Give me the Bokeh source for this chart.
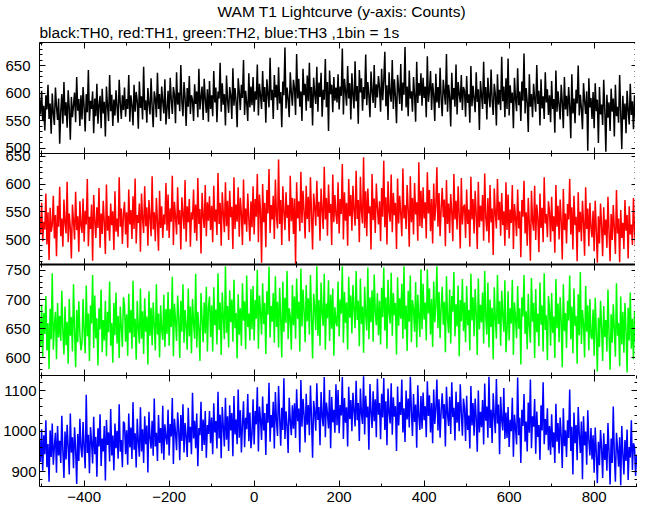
from bokeh.plotting import figure
from bokeh.layouts import column
from bokeh.models import LinearAxis, Title, Range1d, SingleIntervalTicker
from bokeh.embed import file_html
from bokeh.resources import INLINE

# ---------------- data (counts per 1 s bin, sampled every 2.5 s) ----------------
T0 = -505
STEP = 2.5

th0 = [
    588, 561, 604, 549, 577, 532, 596, 570, 615, 553, 581, 526, 599, 563, 542, 610, 575, 551, 590, 508, 567, 598, 544, 620, 559, 583, 537, 605, 572, 515, 593, 556, 578, 601, 547, 629, 568, 589, 540, 596,
    552, 611, 574, 530, 598, 565, 642, 549, 586, 571, 603, 527, 590, 558, 617, 544, 579, 595, 536, 608, 563, 584, 521, 612, 576, 549, 633, 567, 597, 540, 588, 559, 605, 574, 546, 624, 582, 553, 596, 569,
    610, 557, 589, 571, 633, 548, 596, 578, 541, 615, 566, 602, 585, 535, 621, 573, 594, 552, 648, 569, 587, 546, 609, 580, 561, 627, 575, 538, 603, 590, 556, 637, 571, 598, 549, 612, 584, 563, 625, 543,
    571, 604, 553, 628, 588, 562, 611, 597, 545, 638, 579, 601, 567, 651, 584, 558, 620, 592, 540, 609, 575, 631, 562, 596, 587, 549, 616, 580, 603, 556, 644, 570, 593, 612, 551, 626, 589, 564, 607, 548,
    622, 571, 596, 558, 640, 583, 610, 547, 603, 590, 655, 566, 618, 579, 598, 541, 632, 587, 564, 611, 596, 553, 645, 577, 609, 585, 538, 627, 602, 569, 615, 591, 660, 560, 604, 582, 549, 636, 574, 612,
    578, 629, 566, 603, 588, 652, 559, 617, 595, 571, 640, 584, 611, 546, 625, 598, 574, 664, 587, 606, 553, 633, 592, 615, 569, 647, 581, 602, 538, 621, 596, 683, 572, 610, 589, 556, 638, 601, 577, 624,
    609, 560, 671, 590, 626, 575, 603, 549, 644, 596, 617, 568, 632, 585, 655, 573, 611, 541, 628, 599, 580, 648, 566, 619, 593, 637, 557, 606, 588, 662, 574, 620, 531, 641, 598, 615, 565, 629, 586, 610,
    583, 634, 570, 612, 595, 681, 561, 626, 604, 577, 649, 590, 618, 552, 636, 597, 572, 658, 585, 613, 544, 642, 601, 627, 568, 611, 589, 670, 578, 620, 596, 556, 639, 603, 582, 651, 573, 616, 592, 631,
    610, 566, 644, 587, 622, 675, 576, 614, 551, 638, 599, 584, 660, 571, 625, 593, 545, 633, 607, 580, 653, 568, 619, 597, 684, 574, 612, 558, 641, 590, 603, 566, 629, 596, 548, 657, 582, 618, 595, 636,
    577, 628, 591, 612, 556, 667, 584, 605, 640, 569, 618, 597, 549, 635, 583, 611, 573, 646, 590, 558, 624, 602, 579, 671, 566, 615, 593, 539, 637, 588, 609, 575, 652, 561, 620, 598, 583, 633, 569, 611,
    604, 557, 631, 582, 598, 546, 649, 576, 613, 590, 565, 638, 584, 607, 533, 622, 596, 571, 657, 580, 611, 552, 628, 593, 574, 643, 587, 560, 617, 598, 541, 634, 579, 606, 569, 666, 585, 612, 556, 627,
    571, 663, 559, 614, 582, 601, 536, 628, 590, 567, 645, 578, 603, 549, 621, 586, 672, 563, 609, 584, 529, 634, 575, 598, 556, 617, 589, 566, 651, 580, 604, 541, 625, 572, 594, 553, 638, 583, 607, 560,
    596, 547, 622, 571, 589, 528, 641, 566, 603, 579, 552, 615, 584, 536, 629, 570, 595, 558, 611, 577, 518, 634, 563, 590, 545, 606, 581, 650, 559, 597, 572, 534, 618, 586, 562, 603, 495, 627, 574, 591,
    553, 602, 536, 618, 567, 588, 509, 611, 561, 579, 542, 624, 570, 493, 597, 555, 583, 531, 608, 566, 590, 521, 615, 558, 575, 546, 633, 564, 498, 595, 552, 581, 527, 604, 569, 543, 617, 560, 585, 534,
    596, 551, 578,
]

th1 = [
    541, 509, 566, 497, 532, 518, 583, 491, 549, 463, 557, 514, 526, 579, 502, 544, 470, 561, 523, 595, 506, 538, 487, 572, 529, 511, 604, 495, 547, 521, 466, 563, 533, 500, 586, 517, 542, 478, 569, 525,
    512, 574, 496, 552, 527, 609, 488, 541, 519, 563, 462, 580, 534, 503, 558, 521, 593, 485, 547, 510, 570, 530, 474, 599, 516, 543, 498, 565, 526, 551, 481, 587, 514, 538, 505, 612, 523, 556, 492, 546,
    568, 509, 549, 485, 590, 527, 553, 501, 578, 519, 610, 493, 544, 530, 565, 478, 583, 537, 512, 596, 524, 558, 489, 571, 540, 506, 614, 518, 549, 497, 575, 532, 480, 588, 521, 560, 503, 545, 527, 602,
    516, 581, 503, 556, 532, 615, 490, 568, 541, 509, 594, 527, 553, 482, 576, 545, 519, 607, 496, 560, 531, 573, 487, 549, 536, 590, 512, 563, 498, 611, 528, 555, 475, 584, 542, 521, 598, 506, 567, 534,
    578, 517, 561, 495, 597, 532, 554, 508, 620, 528, 566, 489, 585, 546, 513, 603, 524, 570, 499, 588, 540, 559, 483, 612, 519, 563, 532, 594, 505, 575, 547, 490, 608, 527, 556, 514, 583, 538, 497, 569,
    522, 596, 509, 573, 541, 618, 495, 581, 553, 458, 600, 531, 566, 486, 589, 547, 627, 512, 562, 536, 579, 501, 608, 543, 520, 644, 528, 571, 490, 596, 551, 517, 585, 539, 562, 497, 615, 533, 575, 510,
    574, 456, 603, 538, 569, 515, 622, 530, 588, 550, 502, 597, 537, 577, 513, 612, 546, 482, 583, 559, 525, 606, 541, 568, 498, 592, 553, 519, 631, 536, 575, 507, 599, 548, 564, 490, 617, 531, 580, 545,
    528, 603, 511, 573, 546, 636, 500, 585, 534, 566, 489, 609, 542, 580, 516, 597, 553, 525, 624, 537, 571, 495, 613, 550, 529, 648, 521, 587, 506, 592, 547, 560, 482, 618, 535, 574, 512, 601, 556, 527,
    569, 497, 593, 541, 642, 522, 576, 491, 605, 550, 532, 617, 513, 584, 544, 566, 483, 610, 529, 579, 546, 506, 628, 538, 562, 519, 598, 553, 487, 614, 531, 575, 509, 602, 545, 567, 498, 639, 524, 588,
    521, 594, 538, 567, 502, 621, 547, 589, 515, 573, 493, 601, 534, 560, 630, 523, 584, 506, 555, 593, 540, 572, 488, 607, 528, 565, 512, 582, 549, 497, 618, 536, 570, 518, 596, 543, 484, 611, 527, 558,
    563, 503, 590, 528, 554, 487, 613, 536, 573, 511, 588, 546, 483, 604, 522, 561, 533, 580, 498, 619, 540, 515, 575, 494, 598, 531, 556, 472, 592, 547, 520, 609, 535, 568, 507, 584, 526, 551, 489, 603,
    517, 581, 502, 554, 530, 598, 483, 564, 539, 506, 590, 520, 551, 468, 571, 541, 606, 511, 549, 489, 575, 528, 462, 588, 534, 516, 597, 499, 563, 538, 477, 583, 521, 557, 495, 612, 529, 546, 504, 569,
    551, 496, 577, 515, 542, 476, 598, 523, 561, 500, 572, 533, 464, 591, 517, 547, 493, 564, 536, 609, 509, 558, 482, 579, 526, 541, 461, 585, 513, 550, 497, 570, 530, 471, 594, 519, 556, 488, 566, 522,
    504, 552, 479, 570, 517, 458, 542, 493, 565, 525, 470, 558, 508, 536, 485, 577, 514, 461, 546, 499, 562, 520, 474, 589, 511, 538, 459, 553, 503, 530, 483, 571, 516, 544, 466, 560, 509, 527, 490, 575,
    515, 487, 544,
]

th2 = [
    668, 620, 691, 602, 677, 641, 706, 613, 660, 581, 684, 632, 745, 614, 656, 679, 598, 694, 635, 672, 629, 715, 645, 606, 688, 622, 662, 590, 701, 638, 670, 611, 726, 647, 584, 682, 627, 697, 641, 613,
    627, 701, 645, 608, 724, 637, 676, 595, 690, 659, 742, 617, 707, 634, 668, 587, 685, 649, 717, 610, 665, 630, 698, 603, 679, 644, 731, 621, 660, 592, 694, 639, 712, 625, 672, 600, 688, 653, 619, 704,
    691, 628, 675, 604, 710, 643, 682, 616, 732, 636, 667, 597, 698, 651, 625, 719, 633, 680, 607, 702, 645, 671, 589, 714, 638, 686, 622, 695, 657, 613, 726, 640, 676, 601, 690, 648, 631, 708, 619, 684,
    641, 713, 621, 684, 653, 739, 603, 693, 664, 629, 707, 670, 600, 698, 645, 726, 626, 682, 655, 614, 719, 637, 688, 608, 701, 660, 633, 744, 618, 679, 649, 595, 711, 666, 627, 695, 642, 722, 611, 687,
    705, 636, 690, 611, 721, 656, 683, 623, 745, 648, 695, 605, 712, 669, 632, 757, 643, 689, 618, 716, 661, 700, 628, 734, 651, 677, 599, 709, 640, 685, 621, 728, 664, 697, 615, 741, 653, 676, 630, 718,
    649, 723, 630, 699, 667, 751, 616, 707, 679, 640, 728, 658, 694, 607, 714, 674, 756, 635, 689, 662, 711, 626, 740, 653, 696, 618, 720, 668, 601, 731, 645, 703, 660, 749, 632, 685, 671, 614, 725, 656,
    705, 633, 736, 667, 696, 611, 753, 654, 717, 680, 627, 725, 663, 702, 640, 742, 672, 599, 710, 685, 648, 757, 638, 699, 621, 729, 676, 655, 744, 614, 693, 668, 733, 629, 708, 650, 719, 604, 687, 662,
    654, 731, 637, 700, 676, 757, 626, 713, 660, 695, 614, 739, 669, 707, 642, 725, 683, 651, 749, 665, 698, 620, 736, 658, 688, 609, 722, 674, 647, 755, 632, 704, 661, 716, 628, 743, 679, 656, 711, 639,
    698, 623, 720, 670, 755, 647, 704, 616, 734, 679, 659, 746, 638, 711, 673, 694, 606, 738, 655, 702, 667, 727, 633, 757, 649, 690, 612, 715, 662, 741, 627, 699, 684, 645, 730, 618, 708, 671, 636, 752,
    649, 727, 666, 695, 630, 752, 676, 719, 640, 701, 619, 731, 661, 689, 757, 651, 713, 634, 685, 722, 657, 696, 610, 740, 668, 643, 717, 625, 706, 679, 747, 637, 692, 654, 724, 603, 699, 663, 735, 646,
    695, 627, 723, 656, 682, 613, 744, 664, 704, 637, 718, 676, 605, 736, 649, 691, 661, 712, 625, 749, 670, 640, 729, 618, 700, 653, 686, 598, 721, 667, 633, 742, 658, 697, 621, 715, 674, 645, 733, 610,
    647, 714, 630, 685, 659, 734, 605, 695, 668, 634, 723, 650, 685, 589, 704, 671, 742, 641, 680, 615, 710, 653, 626, 737, 662, 694, 600, 718, 644, 676, 620, 729, 657, 690, 611, 745, 648, 673, 596, 706,
    684, 621, 711, 643, 671, 600, 735, 651, 693, 627, 704, 661, 584, 726, 646, 677, 617, 698, 664, 741, 632, 688, 608, 719, 655, 672, 590, 709, 639, 747, 624, 682, 658, 601, 723, 645, 690, 613, 701, 637,
    632, 683, 604, 703, 645, 577, 669, 619, 698, 654, 595, 689, 636, 665, 611, 717, 641, 580, 675, 626, 692, 649, 602, 728, 638, 660, 586, 705, 623, 679, 609, 694, 647, 575, 686, 630, 712, 616, 667, 598,
    681, 627, 659,
]

th3 = [
    981, 924, 1005, 902, 990, 943, 1027, 911, 968, 875, 1002, 936, 1019, 917, 963, 996, 897, 1013, 940, 976, 921, 1038, 952, 884, 999, 930, 1016, 961, 893, 1044, 947, 985, 908, 1010, 955, 869, 993, 926, 1031, 959,
    935, 1023, 957, 908, 1090, 946, 991, 896, 1010, 973, 920, 1036, 943, 986, 887, 1007, 962, 1042, 914, 982, 950, 1013, 878, 1028, 966, 997, 925, 1055, 940, 989, 903, 1019, 958, 1001, 932, 1067, 949, 978, 911, 1024,
    1019, 943, 1002, 917, 1044, 960, 1009, 931, 1072, 954, 995, 910, 1031, 974, 937, 1059, 950, 1005, 921, 1037, 968, 1014, 898, 1048, 983, 957, 1026, 939, 1081, 962, 996, 926, 1040, 971, 1008, 945, 1063, 929, 1017, 985,
    967, 1053, 940, 1018, 987, 1082, 919, 1031, 997, 953, 1047, 1004, 928, 1040, 976, 1067, 947, 1020, 988, 936, 1058, 972, 1011, 943, 1095, 982, 1026, 958, 1044, 913, 1008, 990, 1073, 951, 1029, 966, 1050, 934, 1015, 993,
    1050, 970, 1034, 943, 1069, 997, 1025, 957, 1098, 982, 1041, 933, 1060, 1010, 962, 1083, 979, 1037, 951, 1064, 1002, 1045, 938, 1087, 992, 1029, 968, 1103, 984, 1052, 947, 1018, 1074, 960, 1033, 1005, 1092, 975, 1046, 958,
    994, 1079, 967, 1050, 1017, 1109, 950, 1061, 1030, 978, 1086, 1002, 1045, 941, 1068, 1021, 1120, 974, 1040, 1009, 1073, 957, 1097, 1026, 988, 1112, 1035, 964, 1058, 1003, 1131, 981, 1049, 1014, 946, 1083, 1027, 990, 1064, 1006,
    1069, 983, 1104, 1025, 1056, 947, 1127, 1011, 1080, 1040, 972, 1093, 1016, 1065, 990, 1113, 1032, 934, 1075, 1048, 1001, 1119, 1028, 1060, 965, 1097, 1036, 1012, 1134, 985, 1071, 1044, 1007, 1102, 958, 1085, 1022, 1053, 996, 1116,
    1015, 1102, 995, 1065, 1039, 1134, 981, 1082, 1021, 1059, 962, 1110, 1030, 1077, 1000, 1095, 1051, 1012, 1125, 1027, 1070, 976, 1106, 1043, 1018, 1136, 992, 1088, 1034, 1061, 954, 1117, 1047, 1008, 1099, 1025, 1079, 985, 1130, 1041,
    1070, 980, 1093, 1034, 1132, 1003, 1074, 965, 1106, 1046, 1019, 1119, 991, 1084, 1036, 1062, 951, 1111, 1014, 1072, 1040, 1128, 997, 1057, 973, 1101, 1029, 1081, 1009, 1135, 1048, 988, 1092, 1023, 1066, 959, 1114, 1038, 1003, 1087,
    1006, 1096, 1027, 1062, 985, 1124, 1038, 1089, 997, 1070, 970, 1103, 1018, 1055, 1128, 1002, 1079, 984, 1051, 1094, 1031, 1067, 962, 1110, 1042, 1013, 1085, 993, 1121, 1035, 1058, 977, 1098, 1021, 1072, 1000, 1116, 1045, 989, 1081,
    1057, 976, 1088, 1003, 1039, 957, 1112, 1014, 1070, 989, 1081, 1032, 949, 1101, 997, 1048, 1010, 1077, 967, 1118, 1026, 1061, 984, 1135, 1008, 1053, 971, 1094, 1037, 995, 1129, 1019, 1066, 943, 1085, 1028, 1002, 1107, 981, 1046,
    983, 1060, 961, 1028, 1000, 1083, 937, 1041, 1008, 967, 1133, 990, 1033, 921, 1053, 1013, 1092, 974, 1024, 950, 1071, 996, 1128, 958, 1037, 1011, 1080, 944, 1049, 986, 1015, 929, 1064, 1002, 1121, 968, 1030, 991, 1057, 953,
    1013, 942, 1042, 960, 997, 921, 1068, 974, 1020, 945, 1034, 988, 909, 1057, 963, 1002, 936, 1027, 983, 1103, 951, 1011, 893, 1046, 970, 1015, 928, 1060, 992, 946, 1024, 881, 1037, 965, 999, 917, 1052, 978, 940, 1008,
    930, 990, 897, 1009, 947, 871, 974, 916, 1003, 958, 884, 995, 929, 968, 902, 1020, 950, 868, 982, 921, 1061, 939, 875, 996, 957, 912, 985, 866, 1013, 944, 893, 978, 926, 1004, 879, 961, 935, 1027, 904, 970,
    961, 889, 942,
]

series = [th0, th1, th2, th3]
colors = ["#000000", "#ff0000", "#00ff00", "#0000ff"]
y_ranges = [(490, 692), (455, 655), (570, 760), (863, 1138)]
y_intervals = [50, 50, 50, 100]
x_range = (-505, 902)
x_labels = {-400: "\u2212400", -200: "\u2212200", 0: "0", 200: "200", 400: "400", 600: "600", 800: "800"}

title_text = "WAM T1 Lightcurve (y-axis: Counts)"
subtitle_text = "black:TH0, red:TH1, green:TH2, blue:TH3 ,1bin = 1s"

FONT = "Liberation Sans"
FRAME_W = 598
FRAME_H = 111
LEFT = 37
B = 10  # border above/below each frame, overlapped by the neighbouring panel


def style_axis(ax, show_labels, size="15px", standoff=4, line=True, lw=1):
    ax.major_tick_in = 6
    ax.major_tick_out = 0
    ax.minor_tick_in = 3
    ax.minor_tick_out = 0
    ax.major_tick_line_color = "black"
    ax.minor_tick_line_color = "black"
    ax.axis_line_color = "black" if line else None
    ax.axis_line_width = lw
    ax.major_label_text_font = FONT
    if show_labels:
        ax.major_label_text_color = "black"
        ax.major_label_text_font_size = size
        ax.major_label_standoff = standoff
    else:
        ax.major_label_text_color = None
        ax.major_label_text_font_size = "0px"
        ax.major_label_standoff = 0


panels = []
for i, (vals, col) in enumerate(zip(series, colors)):
    times = [T0 + STEP * k for k in range(len(vals))]
    p = figure(frame_width=FRAME_W, frame_height=FRAME_H,
               x_range=Range1d(*x_range), y_range=Range1d(*y_ranges[i]),
               output_backend="svg", toolbar_location=None, title=None,
               x_axis_location=None, y_axis_location=None,
               min_border_left=LEFT, min_border_right=0,
               min_border_top=0 if i == 0 else B, min_border_bottom=B,
               background_fill_color=None, border_fill_color=None)
    p.outline_line_color = None
    p.xgrid.visible = False
    p.ygrid.visible = False
    if i > 0:
        p.margin = (-2 * B, 0, 0, 0)

    xt = SingleIntervalTicker(interval=200, num_minor_ticks=2)
    yt = SingleIntervalTicker(interval=y_intervals[i], num_minor_ticks=5)

    left = LinearAxis(ticker=yt)
    style_axis(left, True, "15px", 3 if i == 3 else 9)
    p.add_layout(left, "left")

    right = LinearAxis(ticker=yt)
    style_axis(right, False)
    p.add_layout(right, "right")

    top = LinearAxis(ticker=xt)
    style_axis(top, False, line=(i in (0, 2)), lw=2 if i == 2 else 1)
    p.add_layout(top, "above")

    bottom = LinearAxis(ticker=xt)
    style_axis(bottom, i == 3, "15px", 5)
    if i == 3:
        bottom.major_label_overrides = x_labels
    p.add_layout(bottom, "below")

    p.line(times, vals, line_color=col, line_width=1.5, line_join="bevel")

    if i == 0:
        p.add_layout(Title(text=subtitle_text, align="left", offset=0,
                           text_font=FONT, text_font_size="15.5px",
                           text_font_style="normal", text_color="black",
                           standoff=4), "above")
        p.add_layout(Title(text=title_text, align="left", offset=178,
                           text_font=FONT, text_font_size="15.5px",
                           text_font_style="normal", text_color="black",
                           standoff=0), "above")
    panels.append(p)

layout = column(*panels, spacing=0)
open("out.html", "w").write(file_html(layout, INLINE))
